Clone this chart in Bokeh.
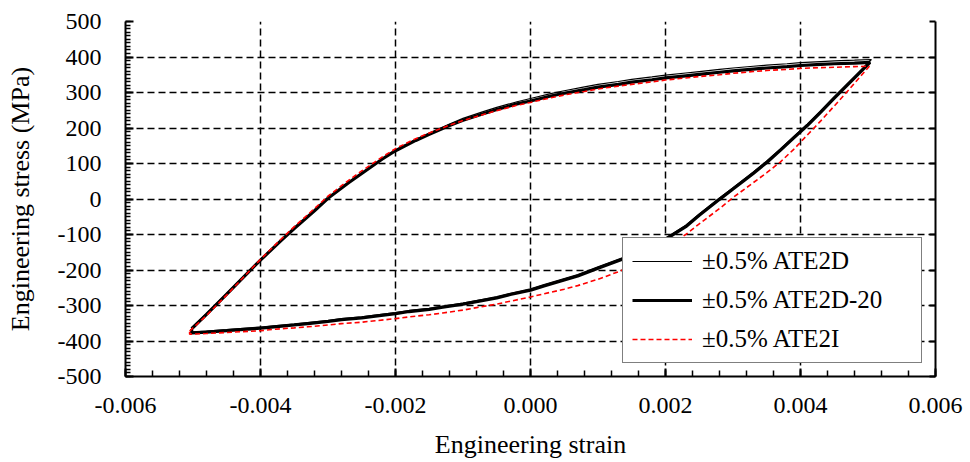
import numpy as np
from bokeh.plotting import figure
from bokeh.models import (Range1d, FixedTicker, LinearAxis, Legend, LegendItem)
from bokeh.embed import file_html
from bokeh.resources import INLINE

# ---- hysteresis loops: strain (-) and engineering stress (MPa) ----
# ±0.5% ATE2D (thin black)
ate2d_strain = [-0.00502, -0.0048, -0.0045, -0.0042, -0.004, -0.0037, -0.0035, -0.0032, -0.003,
                -0.0027, -0.0025, -0.0022, -0.002, -0.0017, -0.0015, -0.0012, -0.001, -0.0007,
                -0.0005, -0.0002, 0.0, 0.0003, 0.0005, 0.0008, 0.001, 0.0013, 0.0015, 0.0018,
                0.002, 0.0023, 0.0025, 0.0028, 0.003, 0.0033, 0.0035, 0.0038, 0.004, 0.0043,
                0.0045, 0.0048, 0.00505,
                0.0049, 0.0047, 0.0045, 0.0043, 0.0041, 0.0039, 0.0037, 0.0035, 0.0033, 0.003,
                0.0028, 0.0025, 0.0023, 0.002, 0.0018, 0.0015, 0.0013, 0.001, 0.0007, 0.0005,
                0.0002, 0.0, -0.0003, -0.0005, -0.0008, -0.001, -0.0013, -0.0015, -0.0018,
                -0.002, -0.0023, -0.0025, -0.0028, -0.003, -0.0033, -0.0035, -0.0038, -0.004,
                -0.0043, -0.0045, -0.0048, -0.00502, -0.00502]
ate2d_stress = [-362, -322, -265, -208, -170, -117, -82, -33, 3,
                46, 73, 113, 138, 168, 186, 211, 227, 246,
                258, 274, 283, 297, 305, 316, 323, 331, 337, 344,
                349, 355, 359, 365, 369, 374, 377, 381, 384, 387,
                389, 391, 393,
                364, 326, 288, 249, 211, 176, 141, 107, 76, 32,
                3, -42, -74, -110, -132, -156, -170, -191, -213, -224,
                -241, -253, -266, -275, -286, -293, -302, -308, -314,
                -320, -327, -332, -337, -342, -348, -352, -357, -361,
                -365, -368, -372, -375, -362]

# ±0.5% ATE2D-20 (thick black)
ate2d20_strain = [-0.00502, -0.0048, -0.0045, -0.0042, -0.004, -0.0037, -0.0035, -0.0032, -0.003,
                  -0.0027, -0.0025, -0.0022, -0.002, -0.0017, -0.0015, -0.0012, -0.001, -0.0007,
                  -0.0005, -0.0002, 0.0, 0.0003, 0.0005, 0.0008, 0.001, 0.0013, 0.0015, 0.0018,
                  0.002, 0.0023, 0.0025, 0.0028, 0.003, 0.0033, 0.0035, 0.0038, 0.004, 0.0043,
                  0.0045, 0.0048, 0.00503,
                  0.0049, 0.0047, 0.0045, 0.0043, 0.0041, 0.0039, 0.0037, 0.0035, 0.0033, 0.003,
                  0.0028, 0.0025, 0.0023, 0.002, 0.0018, 0.0015, 0.0013, 0.001, 0.0007, 0.0005,
                  0.0002, 0.0, -0.0003, -0.0005, -0.0008, -0.001, -0.0013, -0.0015, -0.0018,
                  -0.002, -0.0023, -0.0025, -0.0028, -0.003, -0.0033, -0.0035, -0.0038, -0.004,
                  -0.0043, -0.0045, -0.0048, -0.00502, -0.00502]
ate2d20_stress = [-366, -325, -268, -210, -172, -118, -83, -33, 2,
                  45, 72, 112, 136, 165, 182, 207, 222, 240,
                  252, 268, 276, 290, 298, 308, 315, 323, 329, 336,
                  341, 347, 351, 357, 361, 366, 369, 373, 376, 379,
                  381, 383, 385,
                  360, 322, 284, 245, 207, 172, 137, 103, 72, 28,
                  -1, -46, -78, -114, -136, -160, -174, -195, -217, -228,
                  -245, -257, -269, -279, -289, -296, -305, -311, -317,
                  -323, -330, -335, -340, -345, -351, -355, -360, -364,
                  -368, -371, -375, -377, -366]

# ±0.5% ATE2I (red dashed)
ate2i_strain = [-0.00505, -0.0048, -0.0045, -0.0042, -0.004, -0.0037, -0.0035, -0.0032, -0.003,
                -0.0027, -0.0025, -0.0022, -0.002, -0.0017, -0.0015, -0.0012, -0.001, -0.0007,
                -0.0005, -0.0002, 0.0, 0.0003, 0.0005, 0.0008, 0.001, 0.0013, 0.0015, 0.0018,
                0.002, 0.0023, 0.0025, 0.0028, 0.003, 0.0033, 0.0035, 0.0038, 0.004, 0.0043,
                0.0045, 0.0048, 0.00502,
                0.0049, 0.0047, 0.0045, 0.0043, 0.0041, 0.0039, 0.0037, 0.0035, 0.0033, 0.003,
                0.0028, 0.0025, 0.0023, 0.002, 0.0018, 0.0015, 0.0013, 0.001, 0.0007, 0.0005,
                0.0002, 0.0, -0.0003, -0.0005, -0.0008, -0.001, -0.0013, -0.0015, -0.0018,
                -0.002, -0.0023, -0.0025, -0.0028, -0.003, -0.0033, -0.0035, -0.0038, -0.004,
                -0.0043, -0.0045, -0.0048, -0.00505, -0.00505]
ate2i_stress = [-372, -328, -270, -210, -170, -114, -78, -27, 8,
                52, 79, 118, 142, 170, 186, 208, 221, 238,
                249, 264, 272, 285, 293, 303, 310, 318, 323, 330,
                335, 341, 345, 350, 354, 359, 362, 365, 368, 370,
                371, 373, 374,
                348, 304, 262, 220, 180, 140, 104, 74, 46, 4,
                -27, -70, -100, -138, -160, -188, -205, -226, -244, -254,
                -267, -276, -288, -296, -306, -313, -321, -326, -332,
                -337, -343, -347, -351, -355, -360, -363, -367, -371,
                -374, -376, -379, -381, -372]

# ---- axis ticks and their labels ----
x_ticks = [-0.006, -0.004, -0.002, 0.0, 0.002, 0.004, 0.006]
x_labels = ["-0.006", "-0.004", "-0.002", "0.000", "0.002", "0.004", "0.006"]
y_ticks = [-500, -400, -300, -200, -100, 0, 100, 200, 300, 400, 500]
y_labels = ["-500", "-400", "-300", "-200", "-100", "0", "100", "200", "300", "400", "500"]

FONT = "Liberation Serif"

p = figure(width=970, height=462,
           x_range=Range1d(-0.006, 0.006), y_range=Range1d(-500, 500),
           output_backend="svg", toolbar_location=None,
           min_border_left=125, min_border_right=35, min_border_top=21, min_border_bottom=86,
           x_axis_label="Engineering strain", y_axis_label="Engineering stress (MPa)")
p.outline_line_color = None
p.background_fill_color = "white"

x_minor = [round(v, 5) for v in np.arange(-0.006, 0.00601, 0.0004)]
y_minor = list(range(-500, 501, 10))

p.xaxis.ticker = FixedTicker(ticks=x_ticks, minor_ticks=x_minor)
p.yaxis.ticker = FixedTicker(ticks=y_ticks, minor_ticks=y_minor)
p.xaxis.major_label_overrides = dict(zip(x_ticks, x_labels))
p.yaxis.major_label_overrides = dict(zip(y_ticks, y_labels))

for ax in (p.xaxis[0], p.yaxis[0]):
    ax.axis_line_color = "black"
    ax.axis_line_width = 2
    ax.major_tick_in = 8
    ax.major_tick_out = 0
    ax.minor_tick_out = 0
    ax.major_tick_line_color = "black"
    ax.major_tick_line_width = 2
    ax.minor_tick_line_color = "black"
    ax.minor_tick_line_width = 1.5
    ax.major_label_text_font = FONT
    ax.major_label_text_font_size = "24px"
    ax.major_label_text_color = "black"
    ax.axis_label_text_font = FONT
    ax.axis_label_text_font_size = "26px"
    ax.axis_label_text_font_style = "normal"
    ax.axis_label_text_color = "black"

p.xaxis.minor_tick_in = 6
p.yaxis.minor_tick_in = 5
p.xaxis.major_label_standoff = 21
p.yaxis.major_label_standoff = 24
p.xaxis.axis_label_standoff = 14
p.yaxis.axis_label_standoff = 20

# right-hand frame edge with inward major ticks, no labels
right_axis = LinearAxis(ticker=FixedTicker(ticks=y_ticks, minor_ticks=[]))
right_axis.axis_line_color = "black"
right_axis.axis_line_width = 2
right_axis.major_tick_in = 6
right_axis.major_tick_out = 0
right_axis.major_tick_line_width = 2
right_axis.minor_tick_in = 0
right_axis.minor_tick_out = 0
right_axis.major_label_text_color = None
right_axis.major_label_standoff = 0
p.add_layout(right_axis, "right")

# dashed grid
for g in (p.xgrid[0], p.ygrid[0]):
    g.grid_line_color = "black"
    g.grid_line_width = 1.5
    g.grid_line_dash = "7 4"
p.xgrid.ticker = FixedTicker(ticks=x_ticks)
p.ygrid.ticker = FixedTicker(ticks=y_ticks)

r_thick = p.line(ate2d20_strain, ate2d20_stress, line_color="black", line_width=3.2)
r_thin = p.line(ate2d_strain, ate2d_stress, line_color="black", line_width=1.2)
r_red = p.line(ate2i_strain, ate2i_stress, line_color="#ff0000", line_width=1.6,
               line_dash="5 3")

legend = Legend(items=[LegendItem(label="±0.5% ATE2D", renderers=[r_thin]),
                       LegendItem(label="±0.5% ATE2D-20", renderers=[r_thick]),
                       LegendItem(label="±0.5% ATE2I", renderers=[r_red])],
                location=(497, 13))
legend.label_text_font = FONT
legend.label_text_font_size = "25px"
legend.label_text_color = "black"
legend.border_line_color = "black"
legend.border_line_width = 1.5
legend.background_fill_color = "white"
legend.background_fill_alpha = 1.0
legend.padding = 9
legend.spacing = 11
legend.glyph_height = 28
legend.label_height = 28
legend.glyph_width = 60
legend.label_standoff = 10
legend.label_width = 210
legend.margin = 0
p.add_layout(legend)

open("out.html", "w").write(file_html(p, INLINE))
